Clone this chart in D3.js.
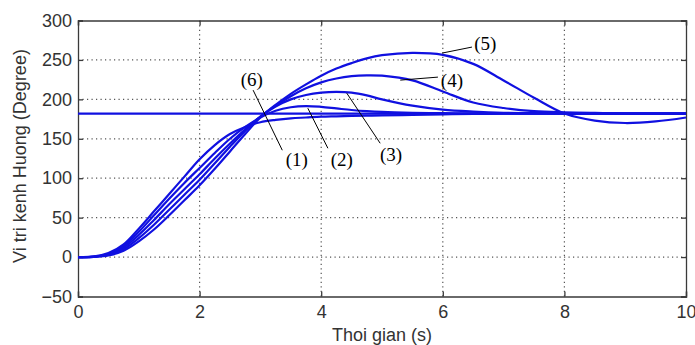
<!DOCTYPE html>
<html><head><meta charset="utf-8">
<script src="https://cdn.jsdelivr.net/npm/d3@7"></script>
<style>body{margin:0;background:#fff}svg{display:block}</style>
</head><body>
<script>
const times = [0,0.25,0.5,0.75,1,1.25,1.5,1.75,2,2.25,2.5,2.75,3,3.25,3.5,3.75,4,4.25,4.5,4.75,5,5.5,6,6.5,7,7.5,8,8.5,9,9.5,10];
const series1 = [0,0.5,5,16,36,58,80,102,124,142,156,165,171,174,176,177,178,178.5,179,179.3,179.6,180.3,181,181.5,181.8,182,182,182,182,182,182];
const series2 = [0,0.4,4,14,32,53,74,94,113,132,150,165,177,185.5,190,191.5,190.5,188.5,186.5,185,184,183,182.5,182.3,182.2,182.1,182,182,182,182,182];
const series3 = [0,0.3,3.5,12,28,47,67,86,105,125,144,162,178,191,200,205.5,208.5,209.5,208.5,205,200,192,187,184.5,183,182.5,182.2,182,182,182,182];
const series4 = [0,0.3,3,10,24,41,60,79,98,119,140,160,178,192,204,214,221.5,226.5,229.5,230.5,230,224,210,196,189,185,183.5,182.8,182.4,182.2,182];
const series5 = [0,0.3,2,8,20,35,53,72,91,112,134,156,177,193,207,219,230,239,246,252,256,259,256.5,245,224,202,182,173,170,172,177];
const setpoint = 182;
const xTicks = [0,2,4,6,8,10];
const yTicks = [-50,0,50,100,150,200,250,300];
const labels = [
  {text:"(5)", t:6.7, v:262.5, t1:5.99, v1:258.7, t2:6.48, v2:266.3},
  {text:"(4)", t:6.15, v:215.5, t1:5.3, v1:224.4, t2:5.92, v2:228.2},
  {text:"(3)", t:5.15, v:121.5, t1:4.42, v1:207.9, t2:4.97, v2:144.3},
  {text:"(2)", t:4.34, v:115, t1:3.78, v1:188.8, t2:4.11, v2:138},
  {text:"(1)", t:3.6, v:115, t1:2.88, v1:211.7, t2:3.36, v2:135.5},
  {text:"(6)", t:2.86, v:216.8, t1:null}
];

const W = 695, H = 345;
const m = {left:78, top:20.5, right:9, bottom:48.5};
const svg = d3.select("body").append("svg").attr("width", W).attr("height", H);
const x = d3.scaleLinear().domain([0,10]).range([m.left, W - m.right]);
const y = d3.scaleLinear().domain([-50,300]).range([H - m.bottom, m.top]);

// grid
const g = svg.append("g");
g.selectAll(".gx").data(xTicks.slice(1,-1)).enter().append("line")
  .attr("x1", d=>x(d)).attr("x2", d=>x(d)).attr("y1", y(-50)).attr("y2", y(300))
  .attr("stroke","#555").attr("stroke-width",1.2).attr("stroke-dasharray","1.2,3.3");
g.selectAll(".gy").data(yTicks.slice(1,-1)).enter().append("line")
  .attr("x1", x(0)).attr("x2", x(10)).attr("y1", d=>y(d)).attr("y2", d=>y(d))
  .attr("stroke","#555").attr("stroke-width",1.2).attr("stroke-dasharray","1.2,3.3");

// axes
svg.append("g").attr("transform",`translate(0,${y(-50)})`)
  .call(d3.axisBottom(x).tickValues(xTicks).tickSize(-5).tickPadding(9).tickFormat(d3.format("d")));
svg.append("g").attr("transform",`translate(${x(0)},0)`)
  .call(d3.axisLeft(y).tickValues(yTicks).tickSize(-5).tickPadding(6).tickFormat(d3.format("d")));
svg.append("g").attr("transform",`translate(0,${y(300)})`)
  .call(d3.axisTop(x).tickValues(xTicks).tickSize(-5).tickFormat(""));
svg.append("g").attr("transform",`translate(${x(10)},0)`)
  .call(d3.axisRight(y).tickValues(yTicks).tickSize(-5).tickFormat(""));
svg.selectAll(".domain").attr("stroke","#3a3a3a").attr("stroke-width",1.3);
svg.selectAll(".tick line").attr("stroke","#3a3a3a").attr("stroke-width",1.3);
svg.selectAll(".tick text").attr("font-family","'Liberation Sans', Arial, sans-serif").attr("font-size",18).attr("fill","#333");

// data lines
const line = d3.line().x((d,i)=>x(times[i])).y(d=>y(d)).curve(d3.curveCatmullRom.alpha(0.5));
const plot = svg.append("g");
plot.append("line").attr("x1",x(0)).attr("x2",x(10)).attr("y1",y(setpoint)).attr("y2",y(setpoint))
  .attr("stroke","#1010e0").attr("stroke-width",2.2);
[series1,series2,series3,series4,series5].forEach(s=>{
  plot.append("path").datum(s).attr("d",line).attr("fill","none")
    .attr("stroke","#1010e0").attr("stroke-width",2.2);
});

// annotations
labels.forEach(l=>{
  if (l.t1 != null) svg.append("line").attr("x1",x(l.t1)).attr("y1",y(l.v1)).attr("x2",x(l.t2)).attr("y2",y(l.v2))
    .attr("stroke","#000").attr("stroke-width",1);
  svg.append("text").attr("x",x(l.t)).attr("y",y(l.v)).attr("text-anchor","middle")
    .attr("font-family","'Liberation Serif','Times New Roman',serif").attr("font-size",19).attr("fill","#000")
    .text(l.text);
});

// axis titles
svg.append("text").attr("x",382).attr("y",341).attr("text-anchor","middle")
  .attr("font-family","'Liberation Sans', Arial, sans-serif").attr("font-size",18).attr("fill","#333")
  .text("Thoi gian (s)");
svg.append("text").attr("transform","translate(26,156) rotate(-90)").attr("text-anchor","middle")
  .attr("font-family","'Liberation Sans', Arial, sans-serif").attr("font-size",18).attr("fill","#333")
  .text("Vi tri kenh Huong (Degree)");
</script>
</body></html>
